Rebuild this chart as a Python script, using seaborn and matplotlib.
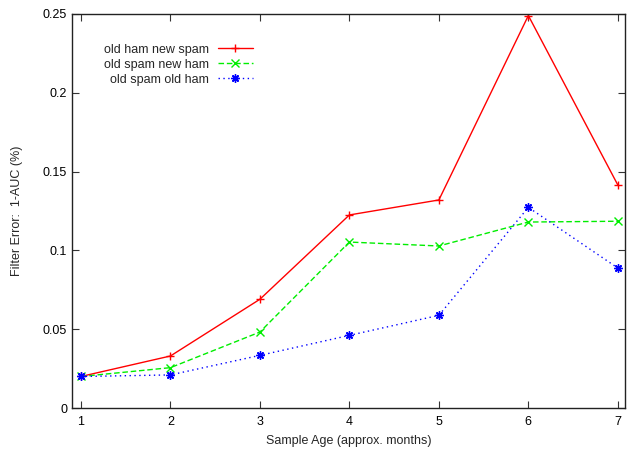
import seaborn as sns
import matplotlib.pyplot as plt
import pandas as pd
import matplotlib.ticker as mticker

# sample ages (months) and filter error for each train/test combination
months = [1, 2, 3, 4, 5, 6, 7]
ham_new_spam = [0.020, 0.033, 0.069, 0.1225, 0.132, 0.249, 0.1415]
spam_new_ham = [0.020, 0.0256, 0.0482, 0.1053, 0.1028, 0.118, 0.1185]
spam_old_ham = [0.020, 0.021, 0.0334, 0.0461, 0.0588, 0.1273, 0.0888]

series_names = ["old ham new spam", "old spam new ham", "old spam old ham"]

df = pd.DataFrame({
    "month": months * 3,
    "error": ham_new_spam + spam_new_ham + spam_old_ham,
    "series": [s for s in series_names for _ in months],
})

sns.set_style("ticks")
plt.rcParams["font.family"] = ["Liberation Sans", "DejaVu Sans"]

fig = plt.figure(figsize=(6.27, 4.5), dpi=100)
ax = fig.add_axes([0.1148, 0.0933, 0.882, 0.8756])

colors = ["#ff0000", "#00ee00", "#0000ff"]
markers = ["+", "x", (8, 2, 0)]
msizes = [6, 6, 6]
dashes = [None, (4, 2), (1, 2.5)]

for name, c, m, ms, d in zip(series_names, colors, markers, msizes, dashes):
    sub = df[df["series"] == name]
    sns.lineplot(data=sub, x="month", y="error", color=c, marker=m,
                 markersize=ms, markeredgewidth=1.0, markeredgecolor=c,
                 markerfacecolor=c, linewidth=1.0, label=name, ax=ax)
    if d is not None:
        ax.lines[-1].set_dashes(d)

ax.set_xlim(0.9, 7.08)
ax.set_ylim(0, 0.25)
ax.set_xticks(months)
ax.set_yticks([0, 0.05, 0.1, 0.15, 0.2, 0.25])
ax.yaxis.set_major_formatter(mticker.FormatStrFormatter("%g"))
ax.tick_params(direction="in", length=5, width=0.8, labelsize=9,
               top=True, right=True, colors="#333333", labelcolor="black")
ax.tick_params(axis="x", pad=6)
for sp in ax.spines.values():
    sp.set_visible(True)
    sp.set_linewidth(1.0)
    sp.set_color("#222222")

ax.set_xlabel("Sample Age (approx. months)", fontsize=9, labelpad=5)
ax.set_ylabel("Filter Error:  1-AUC (%)", fontsize=9, labelpad=14)

ax.legend(loc="upper right", bbox_to_anchor=(0.327, 0.925), frameon=False,
          markerfirst=False, fontsize=9, handlelength=2.8, handletextpad=0.7,
          labelspacing=0.25, borderpad=0, borderaxespad=0)

fig.savefig("out.png", dpi=100)
plt.close()
